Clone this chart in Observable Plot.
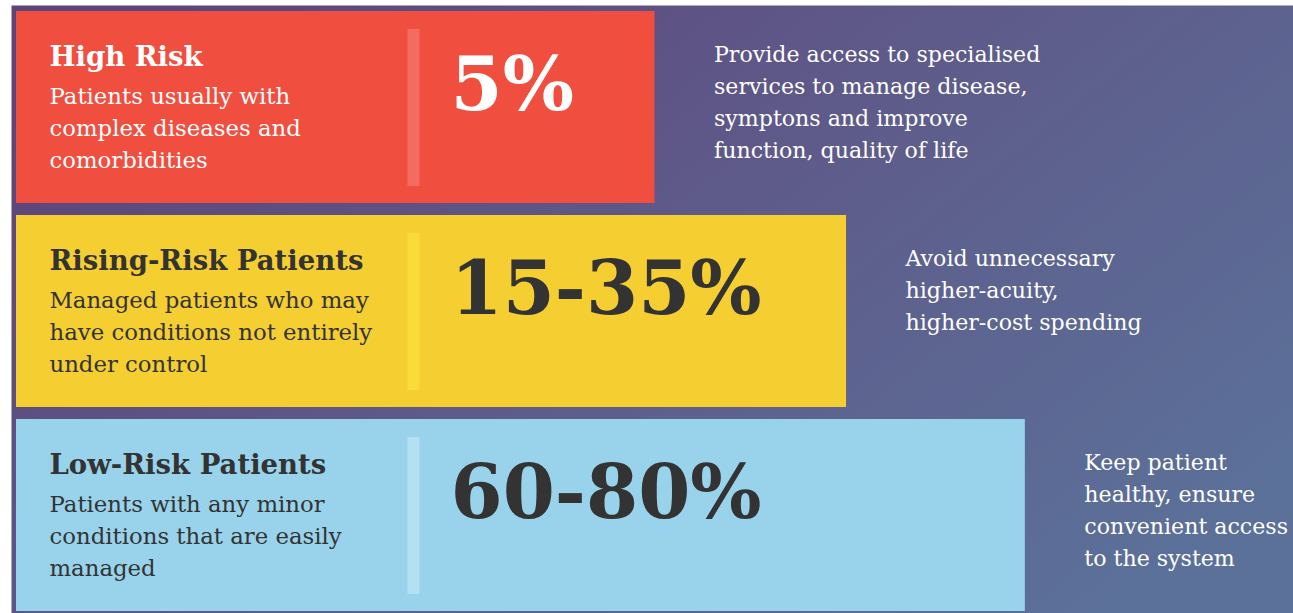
<!DOCTYPE html>
<html>
<head>
<meta charset="utf-8">
<script src="https://cdn.jsdelivr.net/npm/d3@7"></script>
<script src="https://cdn.jsdelivr.net/npm/@observablehq/plot@0.6"></script>
<style>
  html, body { margin: 0; padding: 0; background: #ffffff; }
  #chart svg { display: block; }
</style>
</head>
<body>
<div id="chart"></div>
<script>
// ---- data ----
const categories = ["High Risk", "Rising-Risk Patients", "Low-Risk Patients"];
const descriptions = [
  "Patients usually with\ncomplex diseases and\ncomorbidities",
  "Managed patients who may\nhave conditions not entirely\nunder control",
  "Patients with any minor\nconditions that are easily\nmanaged"
];
const shares = ["5%", "15-35%", "60-80%"];
const barLengths = [50, 65, 79];
const actions = [
  "Provide access to specialised\nservices to manage disease,\nsymptons and improve\nfunction, quality of life",
  "Avoid unnecessary\nhigher-acuity,\nhigher-cost spending",
  "Keep patient\nhealthy, ensure\nconvenient access\nto the system"
];

// ---- styles ----
const barColors = ["#f04e3f", "#f5ce31", "#98d3eb"];
const dividerColors = ["#f36c5f", "#f9dc38", "#b4e1f2"];
const textColors = ["#ffffff", "#333333", "#333333"];

const rows = categories.map((c, i) => ({
  cat: c,
  desc: descriptions[i],
  share: shares[i],
  len: barLengths[i],
  action: actions[i],
  bar: barColors[i],
  divider: dividerColors[i],
  ink: textColors[i]
}));

const serif = "'DejaVu Serif', 'Liberation Serif', serif";
const bodySize = 22.8;
const actionSize = 22.1;

const defs = () => {
  const d = d3.create("svg:defs");
  const g = d.append("linearGradient")
    .attr("id", "bg")
    .attr("x1", "0").attr("y1", "0.2")
    .attr("x2", "1").attr("y2", "0.8");
  g.append("stop").attr("offset", "0%").attr("stop-color", "#5d4579");
  g.append("stop").attr("offset", "50%").attr("stop-color", "#5e5c8b");
  g.append("stop").attr("offset", "100%").attr("stop-color", "#5b7199");
  return d.node();
};

const chart = Plot.plot({
  width: 1293,
  height: 613,
  marginTop: 5,
  marginLeft: 11,
  marginRight: 0,
  marginBottom: 0,
  x: {domain: [0, 100], range: [16, 1293], axis: null},
  y: {domain: categories, range: [10, 611], paddingInner: 12 / 204, paddingOuter: 0, axis: null},
  color: {type: "identity"},
  style: {background: "transparent", overflow: "visible"},
  marks: [
    defs,
    Plot.frame({fill: "url(#bg)", stroke: "none"}),
    Plot.barX(rows, {x: "len", y: "cat", fill: "bar"}),
    Plot.tickX(rows, {x: 0, y: "cat", dx: 397, stroke: "divider", strokeWidth: 12, insetTop: 18, insetBottom: 17}),
    Plot.text(rows, {
      x: 0, y: "cat", text: "cat", fill: "ink", dx: 33, dy: -42,
      textAnchor: "start", lineAnchor: "bottom",
      fontFamily: serif, fontWeight: "bold", fontSize: 27.5
    }),
    Plot.text(rows, {
      x: 0, y: "cat", text: "desc", fill: "ink", dx: 33, dy: 60,
      textAnchor: "start", lineAnchor: "bottom", lineHeight: 32 / bodySize,
      fontFamily: serif, fontSize: bodySize
    }),
    Plot.text(rows, {
      x: 0, y: "cat", text: "share", fill: "ink", dx: 434, dy: 2,
      textAnchor: "start", lineAnchor: "bottom",
      fontFamily: serif, fontWeight: "bold", fontSize: 75
    }),
    Plot.text(rows, {
      x: "len", y: "cat", text: "action", fill: "#ffffff", dx: 59, dy: -68,
      textAnchor: "start", lineAnchor: "top", lineHeight: 32 / actionSize,
      fontFamily: serif, fontSize: actionSize
    })
  ]
});

document.getElementById("chart").appendChild(chart);
</script>
</body>
</html>
